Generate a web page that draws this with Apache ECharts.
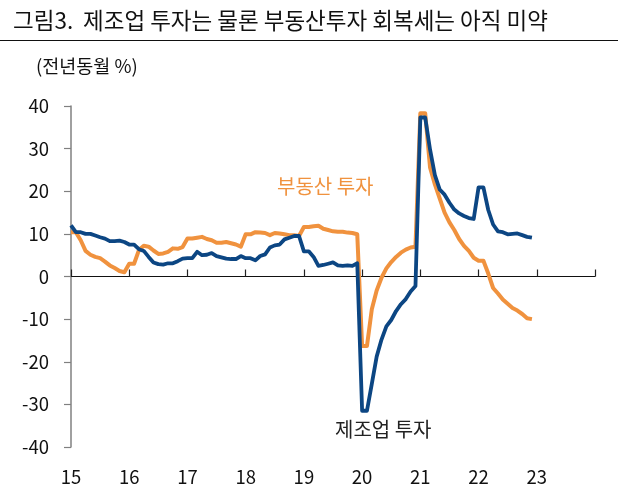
<!DOCTYPE html>
<html>
<head>
<meta charset="utf-8">
<script src="https://cdn.jsdelivr.net/npm/echarts@6/dist/echarts.min.js"></script>
<style>
html,body{margin:0;padding:0;background:#fff;}
#c{width:625px;height:494px;}
</style>
</head>
<body>
<div id="c"></div>
<script>
// Tick labels (years) and months
const yearLabels = ['15','16','17','18','19','20','21','22','23','24'];
const monthNames = ['01','02','03','04','05','06','07','08','09','10','11','12'];
const yTicks = { min: -40, max: 40, step: 10 };

// 부동산 투자 (YoY %), monthly 2015-01 .. 2022-12
const realEstate = [
  10.4, 10.4, 8.5, 6.0, 5.1, 4.6, 4.3, 3.5, 2.6, 2.0, 1.3, 1.0,
  3.0, 3.0, 6.2, 7.2, 7.0, 6.1, 5.3, 5.4, 5.8, 6.6, 6.5, 6.9,
  8.9, 8.9, 9.1, 9.3, 8.8, 8.5, 7.9, 7.9, 8.1, 7.8, 7.5, 7.0,
  9.9, 9.9, 10.4, 10.3, 10.2, 9.7, 10.2, 10.1, 9.9, 9.7, 9.7, 9.5,
  11.6, 11.6, 11.8, 11.9, 11.2, 10.9, 10.6, 10.5, 10.5, 10.3, 10.2, 9.9,
  -16.3, -16.3, -7.7, -3.3, -0.3, 1.9, 3.4, 4.6, 5.6, 6.3, 6.8, 7.0,
  38.3, 38.3, 25.6, 21.6, 18.3, 15.0, 12.7, 10.9, 8.8, 7.2, 6.0, 4.4,
  3.7, 3.7, 0.7, -2.7, -4.0, -5.4, -6.4, -7.4, -8.0, -8.8, -9.8, -10.0
];

// 제조업 투자 (YoY %), monthly 2015-01 .. 2022-12
const manufacturing = [
  12.0, 10.4, 10.4, 10.0, 10.0, 9.6, 9.2, 8.9, 8.3, 8.3, 8.4, 8.1,
  7.5, 7.5, 6.4, 6.0, 4.6, 3.3, 2.9, 2.8, 3.1, 3.1, 3.6, 4.2,
  4.3, 4.3, 5.8, 5.0, 5.1, 5.5, 4.8, 4.5, 4.2, 4.1, 4.1, 4.8,
  4.3, 4.3, 3.8, 4.8, 5.2, 6.8, 7.3, 7.5, 8.7, 9.1, 9.5, 9.5,
  5.9, 5.9, 4.6, 2.5, 2.7, 3.0, 3.3, 2.6, 2.5, 2.6, 2.5, 3.1,
  -31.5, -31.5, -25.2, -18.8, -14.8, -11.7, -10.2, -8.1, -6.5, -5.3, -3.5, -2.2,
  37.3, 37.3, 29.8, 23.8, 20.4, 19.2, 17.3, 15.7, 14.8, 14.2, 13.7, 13.5,
  20.9, 20.9, 15.6, 12.2, 10.6, 10.4, 9.9, 10.0, 10.1, 9.7, 9.3, 9.1
];

// Month categories 2015-01 .. 2024-01
const categories = [];
for (let y = 0; y < yearLabels.length; y++) {
  for (let m = 0; m < 12; m++) {
    categories.push(yearLabels[y] + '-' + monthNames[m]);
    if (y === yearLabels.length - 1) break;
  }
}

const FONT = '"Noto Sans CJK KR", "Noto Sans", sans-serif';
const chart = echarts.init(document.getElementById('c'), null, { renderer: 'canvas' });

chart.setOption({
  animation: false,
  backgroundColor: '#fff',
  grid: { left: 71, top: 106, width: 524, height: 341, containLabel: false },
  xAxis: [
    {
      type: 'category', data: categories, boundaryGap: false,
      axisLine: { show: true, onZero: true, lineStyle: { color: '#111', width: 1.2 } },
      axisTick: { show: true, inside: true, length: 7, interval: (i) => i % 12 === 0, lineStyle: { color: '#222', width: 1.2 } },
      axisLabel: { show: false },
      splitLine: { show: false }
    },
    {
      type: 'category', data: categories, boundaryGap: false, position: 'bottom',
      axisLine: { show: false, onZero: false },
      axisTick: { show: false },
      axisLabel: {
        show: true, interval: (i) => i % 12 === 0 && i < categories.length - 1,
        formatter: (v) => v.split('-')[0],
        margin: 21, fontSize: 18.5, color: '#111', fontFamily: FONT
      },
      splitLine: { show: false }
    }
  ],
  yAxis: {
    type: 'value', min: yTicks.min, max: yTicks.max, interval: yTicks.step,
    axisLine: { show: true, lineStyle: { color: '#808080', width: 1.5 } },
    axisTick: { show: true, length: 7, lineStyle: { color: '#808080', width: 1.2 } },
    axisLabel: { margin: 22, fontSize: 18.5, color: '#111', fontFamily: FONT },
    splitLine: { show: false }
  },
  series: [
    {
      name: '부동산 투자', type: 'line', xAxisIndex: 0, data: realEstate,
      showSymbol: false, symbol: 'none',
      lineStyle: { color: '#f0923e', width: 4, join: 'round' }, z: 2
    },
    {
      name: '제조업 투자', type: 'line', xAxisIndex: 0, data: manufacturing,
      showSymbol: false, symbol: 'none',
      lineStyle: { color: '#0c4683', width: 3.8, join: 'round' }, z: 3
    }
  ],
  graphic: [
    { type: 'text', left: 13, top: 9, style: { text: '그림3.', font: '22.5px ' + FONT, fill: '#111' } },
    { type: 'text', left: 83, top: 9, style: { text: '제조업 투자는 물론 부동산투자 회복세는 아직 미약', font: '22.5px ' + FONT, fill: '#111' } },
    { type: 'line', shape: { x1: 0, y1: 40.5, x2: 618, y2: 40.5 }, style: { stroke: '#111', lineWidth: 1.2 } },
    { type: 'text', left: 36, top: 57, style: { text: '(전년동월 %)', font: '18.5px ' + FONT, fill: '#111' } },
    { type: 'text', left: 277, top: 176, style: { text: '부동산 투자', font: '20px ' + FONT, fill: '#f0923e' } },
    { type: 'text', left: 335, top: 419, style: { text: '제조업 투자', font: '20px ' + FONT, fill: '#222' } }
  ]
});
</script>
</body>
</html>
